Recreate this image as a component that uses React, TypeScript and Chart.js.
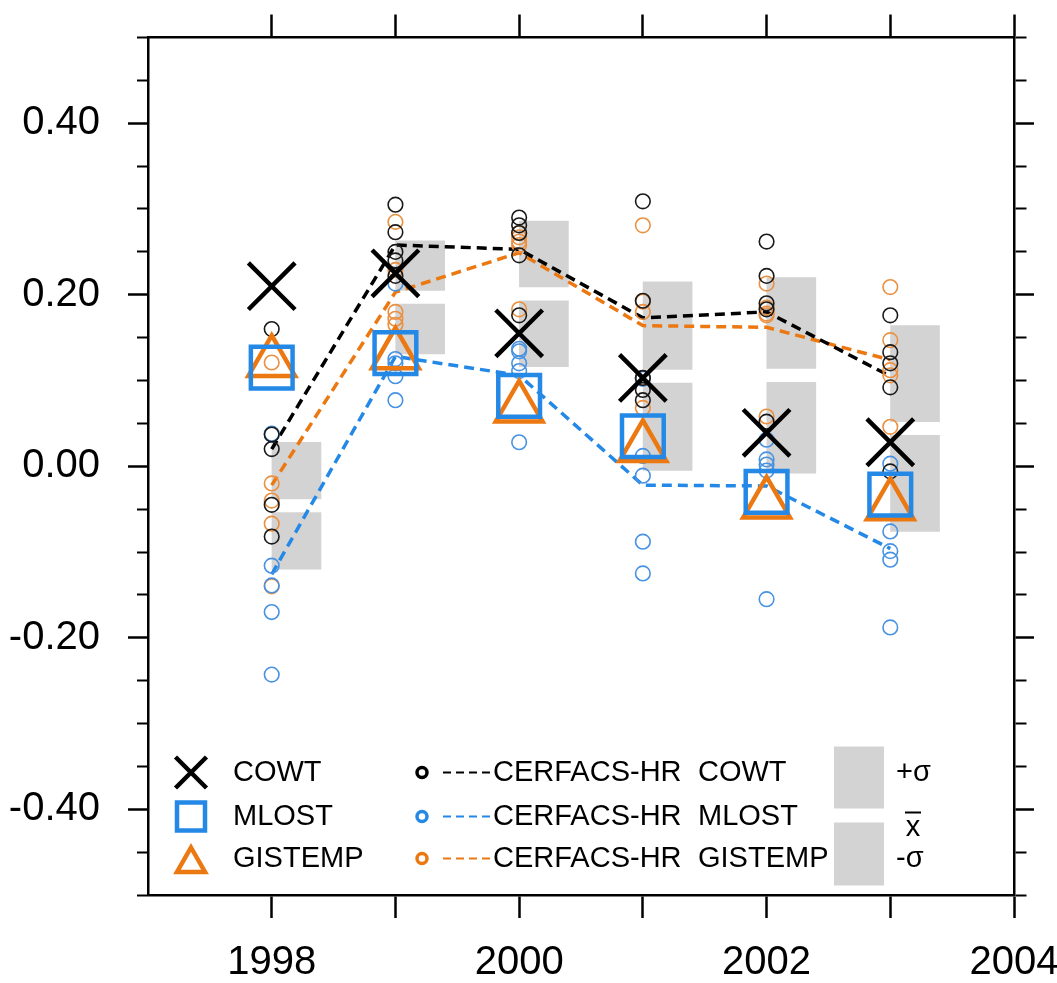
import React, { useEffect, useRef } from 'react';
import { Chart, registerables } from 'chart.js';

Chart.register(...registerables);

// ---------------- data ----------------
const years = [1998, 1999, 2000, 2001, 2002, 2003];
const xTickLabels = ['1998', '2000', '2002', '2004'];
const yTickLabels = ['-0.40', '-0.20', '0.00', '0.20', '0.40'];

// observations
const cowtObs = [0.21, 0.225, 0.155, 0.103, 0.039, 0.028];
const mlostObs = [0.115, 0.132, 0.082, 0.035, -0.03, -0.033];
const gistempObs = [0.121, 0.13, 0.068, 0.022, -0.044, -0.046];

// CERFACS-HR ensemble members (per year)
const cerfacsCowtMembers = [
  [0.16, 0.037, 0.02, -0.045, -0.082],
  [0.305, 0.273, 0.25, 0.24, 0.222],
  [0.29, 0.281, 0.272, 0.246, 0.176],
  [0.309, 0.193, 0.103, 0.089, 0.077],
  [0.262, 0.222, 0.19, 0.183, 0.052],
  [0.176, 0.133, 0.12, 0.092, -0.006],
];
const cerfacsMlostMembers = [
  [0.038, -0.116, -0.139, -0.17, -0.243],
  [0.213, 0.125, 0.12, 0.105, 0.077],
  [0.137, 0.134, 0.12, 0.111, 0.028],
  [0.102, 0.012, -0.011, -0.088, -0.125],
  [0.031, 0.008, 0.002, -0.005, -0.155],
  [0.003, -0.076, -0.099, -0.109, -0.188],
];
const cerfacsGistempMembers = [
  [0.121, -0.02, -0.04, -0.067, -0.14],
  [0.285, 0.229, 0.18, 0.172, 0.165],
  [0.272, 0.267, 0.262, 0.258, 0.183],
  [0.281, 0.192, 0.18, 0.103, 0.068],
  [0.213, 0.185, 0.178, 0.176, 0.058],
  [0.209, 0.147, 0.112, 0.106, 0.046],
];

// CERFACS-HR ensemble means
const cerfacsCowtMean = [0.02, 0.258, 0.253, 0.173, 0.18, 0.105];
const cerfacsMlostMean = [-0.126, 0.128, 0.106, -0.022, -0.023, -0.096];
const cerfacsGistempMean = [-0.022, 0.203, 0.249, 0.164, 0.162, 0.124];

// overall mean and standard deviation (grey boxes)
const ensembleMean = [-0.046, 0.197, 0.201, 0.105, 0.106, 0.044];
const ensembleSigma = [0.074, 0.066, 0.085, 0.11, 0.114, 0.12];

const obsLabels = ['COWT', 'MLOST', 'GISTEMP'];
const modelLabel = 'CERFACS-HR';

// ---------------- styles ----------------
const FONT = "'Liberation Sans', Arial, Helvetica, sans-serif";
const BLACK = '#000000';
const BLUE = '#2489e6';
const ORANGE = '#ec7812';
const BLUE_C = '#4792e2';
const ORANGE_C = '#eb9040';
const BLACK_C = '#1a1a1a';
const GREY = '#d3d3d3';
const BOX_W = 0.4; // years
const GAP = 0.008;

const isMajor = (v: number) => Math.abs(v / 0.2 - Math.round(v / 0.2)) < 1e-6;
const fmtY = (v: number) => (Math.abs(v) < 1e-9 ? '0.00' : v.toFixed(2));

const pts = (vals: number[]) => years.map((yr, i) => ({ x: yr, y: vals[i] }));
const memberPts = (m: number[][]) => years.flatMap((yr, i) => m[i].map((v) => ({ x: yr, y: v })));

const legendPlugin = {
  id: 'nclLegend',
  afterDatasetsDraw(chart: any) {
    const ctx = chart.ctx as CanvasRenderingContext2D;
    const { left, top } = chart.chartArea;
    const rows = [top + 735, top + 779, top + 821];
    ctx.save();
    ctx.lineCap = 'butt';
    ctx.lineJoin = 'miter';
    // column 1 markers
    const mx = left + 43;
    ctx.strokeStyle = BLACK;
    ctx.lineWidth = 4.5;
    ctx.beginPath();
    ctx.moveTo(mx - 15.5, rows[0] - 15.5);
    ctx.lineTo(mx + 15.5, rows[0] + 15.5);
    ctx.moveTo(mx + 15.5, rows[0] - 15.5);
    ctx.lineTo(mx - 15.5, rows[0] + 15.5);
    ctx.stroke();
    ctx.strokeStyle = BLUE;
    ctx.lineWidth = 4.5;
    ctx.strokeRect(mx - 14, rows[1] - 14, 28, 28);
    ctx.strokeStyle = ORANGE;
    ctx.beginPath();
    ctx.moveTo(mx, rows[2] - 11);
    ctx.lineTo(mx + 14, rows[2] + 13.5);
    ctx.lineTo(mx - 14, rows[2] + 13.5);
    ctx.closePath();
    ctx.stroke();

    ctx.fillStyle = BLACK;
    ctx.font = `29px ${FONT}`;
    ctx.textBaseline = 'middle';
    ctx.textAlign = 'left';
    obsLabels.forEach((l, i) => ctx.fillText(l, left + 85, rows[i]));

    // column 2
    const cols = [BLACK, BLUE, ORANGE];
    cols.forEach((c, i) => {
      ctx.strokeStyle = c;
      ctx.lineWidth = 3.5;
      ctx.setLineDash([]);
      ctx.beginPath();
      ctx.arc(left + 274, rows[i], 5, 0, Math.PI * 2);
      ctx.stroke();
      ctx.lineWidth = 2.2;
      ctx.setLineDash([8, 5]);
      ctx.beginPath();
      ctx.moveTo(left + 295, rows[i]);
      ctx.lineTo(left + 343, rows[i]);
      ctx.stroke();
      ctx.setLineDash([]);
      ctx.fillStyle = BLACK;
      ctx.fillText(modelLabel, left + 345, rows[i]);
      ctx.fillText(obsLabels[i], left + 550, rows[i]);
    });

    // column 3
    ctx.fillStyle = GREY;
    ctx.fillRect(left + 686, top + 709, 50, 62);
    ctx.fillRect(left + 686, top + 785, 50, 63);
    ctx.fillStyle = BLACK;
    ctx.fillText('+σ', left + 748, rows[0]);
    ctx.fillText('-σ', left + 748, rows[2]);
    ctx.textAlign = 'center';
    ctx.fillText('x', left + 765, top + 790);
    ctx.strokeStyle = BLACK;
    ctx.lineWidth = 2;
    ctx.beginPath();
    ctx.moveTo(left + 757, top + 775);
    ctx.lineTo(left + 773, top + 775);
    ctx.stroke();
    ctx.restore();
  },
};

const frame = { display: true, color: BLACK, width: 2.5 };

function yAxis(position: 'left' | 'right', width: number, showLabels: boolean) {
  return {
    type: 'linear',
    position,
    min: -0.5,
    max: 0.5,
    border: frame,
    grid: {
      drawOnChartArea: false,
      drawTicks: true,
      tickLength: 20,
      tickColor: BLACK,
      tickWidth: (c: any) => (c.tick && isMajor(c.tick.value) ? 2.5 : 2),
      tickBorderDash: (c: any) =>
        c.tick && isMajor(c.tick.value) ? [] : position === 'left' ? [0, 9, 11, 200] : [11, 200],
    },
    ticks: {
      display: showLabels,
      stepSize: 0.05,
      autoSkip: false,
      padding: 28,
      color: BLACK,
      font: { size: 40, family: FONT },
      callback: (v: number) => {
        const s = fmtY(v);
        return yTickLabels.includes(s) ? s : '';
      },
    },
    afterFit: (s: any) => {
      s.width = width;
      s.paddingTop = 0;
      s.paddingBottom = 0;
    },
  };
}

function xAxis(position: 'top' | 'bottom', height: number, showLabels: boolean) {
  return {
    type: 'linear',
    position,
    min: 1997,
    max: 2004,
    offset: false,
    border: frame,
    grid: {
      offset: false,
      drawOnChartArea: false,
      drawTicks: true,
      tickLength: 23,
      tickWidth: 2.5,
      tickColor: (c: any) => (c.tick && c.tick.value === 1997 ? 'rgba(0,0,0,0)' : BLACK),
    },
    ticks: {
      display: showLabels,
      stepSize: 1,
      autoSkip: false,
      maxRotation: 0,
      minRotation: 0,
      padding: 21,
      color: BLACK,
      font: { size: 40, family: FONT },
      callback: (v: number) => (xTickLabels.includes(String(v)) ? String(v) : ''),
    },
    afterFit: (s: any) => {
      s.height = height;
      s.paddingLeft = 0;
      s.paddingRight = 0;
    },
  };
}

export default function App() {
  const ref = useRef<HTMLCanvasElement>(null);
  useEffect(() => {
    if (!ref.current) return;
    const markerSet = (data: any, style: string, radius: number, color: string, bw: number) => ({
      type: 'scatter',
      data,
      pointStyle: style,
      pointRadius: radius,
      pointBorderWidth: bw,
      borderWidth: bw,
      pointBorderColor: color,
      borderColor: color,
      pointBackgroundColor: 'rgba(0,0,0,0)',
      backgroundColor: 'rgba(0,0,0,0)',
      order: 1,
    });
    const lineSet = (vals: number[], color: string) => ({
      type: 'line',
      data: pts(vals),
      borderColor: color,
      borderWidth: 3.5,
      borderDash: [10, 6],
      pointRadius: 0,
      fill: false,
      tension: 0,
      order: 3,
    });
    const memberSet = (m: number[][], color: string) => ({
      ...markerSet(memberPts(m), 'circle', 7.3, color, 1.6),
      order: 2,
    });
    const boxSet = (upper: boolean) => ({
      type: 'bar',
      data: years.map((yr, i) => ({
        x: yr + BOX_W / 2,
        y: upper
          ? [ensembleMean[i] + GAP, ensembleMean[i] + ensembleSigma[i]]
          : [ensembleMean[i] - ensembleSigma[i], ensembleMean[i] - GAP],
      })),
      backgroundColor: GREY,
      borderWidth: 0,
      barThickness: 49,
      grouped: false,
      order: 10,
    });

    const chart = new Chart(ref.current, {
      type: 'scatter',
      data: {
        datasets: [
          boxSet(true),
          boxSet(false),
          lineSet(cerfacsCowtMean, BLACK),
          lineSet(cerfacsMlostMean, BLUE),
          lineSet(cerfacsGistempMean, ORANGE),
          memberSet(cerfacsCowtMembers, BLACK_C),
          memberSet(cerfacsMlostMembers, BLUE_C),
          memberSet(cerfacsGistempMembers, ORANGE_C),
          markerSet(pts(cowtObs), 'crossRot', 33, BLACK, 4.5),
          markerSet(pts(mlostObs), 'rect', 29.5, BLUE, 4.5),
          markerSet(pts(gistempObs), 'triangle', 27, ORANGE, 4.5),
        ] as any,
      },
      options: {
        responsive: false,
        animation: false,
        devicePixelRatio: 1,
        events: [],
        layout: { padding: 0 },
        plugins: { legend: { display: false }, tooltip: { enabled: false } },
        scales: {
          x: xAxis('bottom', 88, true),
          x2: xAxis('top', 32, false),
          y: yAxis('left', 148, true),
          y2: yAxis('right', 43, false),
        } as any,
      },
      plugins: [legendPlugin],
    } as any);
    return () => chart.destroy();
  }, []);
  return (
    <div style={{ position: 'absolute', left: 0, top: 0, width: 1057, height: 983, background: '#fff' }}>
      <canvas ref={ref} width={1057} height={983} style={{ display: 'block' }} />
    </div>
  );
}
